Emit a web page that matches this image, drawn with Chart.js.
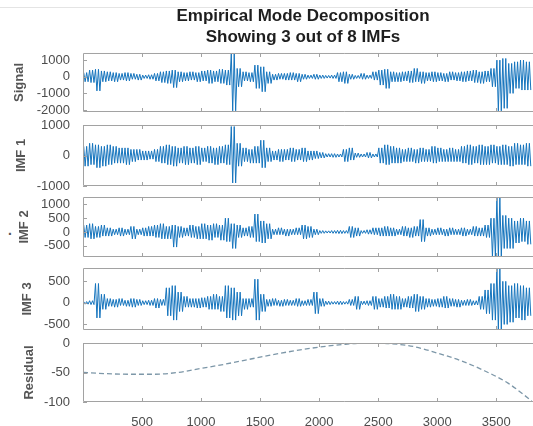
<!DOCTYPE html>
<html>
<head>
<meta charset="utf-8">
<script src="https://cdn.jsdelivr.net/npm/chart.js@4.4.1/dist/chart.umd.min.js"></script>
<style>
  html, body { margin: 0; padding: 0; background: #fff; }
  body { width: 533px; height: 426px; overflow: hidden; position: relative; }
  canvas { position: absolute; left: 0; }
  #cutLine { position: absolute; left: 0; top: 7px; width: 533px; height: 1px; background: #e4e4e4; }
  #dot { position: absolute; left: 8px; top: 222px; font: bold 14px "Liberation Sans", Arial, sans-serif; color: #555; }
</style>
</head>
<body>
<div id="cutLine"></div>
<div id="dot">.</div>
<canvas id="cSignal" width="606" height="120" style="top:0px"></canvas>
<canvas id="cImf1" width="606" height="77" style="top:117px"></canvas>
<canvas id="cImf2" width="606" height="76" style="top:189px"></canvas>
<canvas id="cImf3" width="606" height="78" style="top:260px"></canvas>
<canvas id="cResidual" width="606" height="91" style="top:335px"></canvas>

<script>
// --- DATA ---
// oscillating components: per 50-sample bin, upper and lower swing
const binWidth = 50;

const signalHi = [250,400,450,350,300,250,200,250,200,150, 100,120,200,300,350,400,300,250,300,250,
                  350,400,350,450,400,1400,500,300,250,700, 600,300,150,200,200,250,200,150,100,150,
                  100,80,100,250,300,150,80,200,100,300, 400,450,300,250,300,350,500,300,250,300,
                  250,200,300,250,300,350,400,300,350,500, 1000,1100,800,900,1000,900];
const signalLo = [-300,-350,-850,-300,-250,-300,-200,-250,-150,-200, -100,-150,-250,-350,-400,-650,-300,-250,-200,-300,
                  -250,-400,-300,-400,-500,-2050,-600,-250,-300,-700, -900,-400,-200,-150,-200,-200,-300,-150,-100,-150,
                  -100,-80,-100,-300,-400,-150,-100,-150,-100,-200, -500,-700,-300,-300,-250,-350,-300,-400,-250,-300,
                  -250,-300,-200,-250,-300,-250,-350,-400,-300,-600, -2050,-1900,-1000,-700,-800,-800];

const imf1Hi = [300,400,350,300,350,300,250,250,200,200, 150,150,200,300,350,300,250,300,250,300,
                250,300,250,300,350,950,400,250,200,300, 500,250,150,200,200,250,200,250,150,150,
                100,60,60,50,200,250,80,50,100,50, 250,350,300,250,200,250,200,250,200,300,
                250,200,250,200,300,350,300,350,300,350, 300,350,300,400,350,400];
const imf1Lo = [-350,-300,-400,-350,-300,-250,-250,-300,-200,-150, -150,-120,-200,-250,-300,-350,-250,-300,-250,-300,
                -200,-250,-300,-250,-300,-900,-350,-200,-250,-250, -400,-200,-150,-200,-150,-200,-150,-200,-150,-100,
                -80,-50,-60,-50,-200,-150,-60,-50,-80,-50, -250,-300,-250,-250,-200,-200,-250,-200,-200,-250,
                -200,-200,-200,-200,-250,-300,-250,-300,-300,-250, -300,-300,-350,-300,-300,-350];

const imf2Hi = [250,300,200,250,150,100,150,100,200,100, 150,200,250,300,200,250,200,150,250,200,
                300,250,300,250,500,300,250,150,200,650, 400,300,100,150,100,100,150,250,200,100,
                50,40,50,60,50,200,150,50,80,150, 150,200,150,100,200,150,200,450,150,100,
                150,100,150,100,150,100,200,150,250,500, 1250,600,500,400,500,400];
const imf2Lo = [-200,-250,-200,-150,-150,-100,-150,-100,-250,-100, -150,-150,-200,-250,-250,-550,-200,-150,-200,-250,
                -250,-300,-200,-300,-350,-600,-200,-150,-200,-350, -400,-250,-100,-100,-150,-100,-100,-250,-200,-100,
                -50,-40,-50,-60,-50,-200,-150,-50,-80,-100, -150,-150,-150,-100,-150,-200,-150,-350,-150,-100,
                -100,-150,-100,-100,-150,-100,-150,-150,-200,-900, -900,-600,-600,-400,-350,-450];

const imf3Hi = [30,50,450,200,100,80,100,60,100,80, 50,60,100,80,350,400,250,150,100,100,
                120,150,200,150,400,350,250,100,100,550, 200,80,100,60,80,60,100,50,80,250,
                100,40,30,40,30,80,150,40,50,150, 100,150,200,150,100,150,200,150,100,80,
                100,150,100,80,60,80,50,150,300,450, 800,500,400,450,400,350];
const imf3Lo = [-30,-40,-350,-150,-80,-100,-60,-80,-100,-60, -40,-60,-120,-60,-300,-400,-200,-100,-100,-120,
                -100,-150,-150,-200,-350,-400,-300,-150,-100,-400, -200,-80,-60,-80,-60,-60,-80,-60,-60,-250,
                -80,-40,-30,-40,-30,-60,-150,-40,-60,-150, -100,-120,-150,-150,-100,-120,-200,-150,-100,-80,
                -100,-120,-80,-100,-60,-60,-50,-150,-250,-400, -630,-500,-450,-350,-400,-300];

// slow residual trend
const residualX = [0,200,400,600,800,1000,1200,1400,1600,1800,2000,2200,2400,2600,2800,3000,3200,3400,3600,3800];
const residualY = [-50,-52,-53,-53,-50,-43,-36,-28,-20,-13,-7,-2.5,0,-1,-6,-17,-30,-47,-68,-98];

// axis ticks
const xTicks = [500, 1000, 1500, 2000, 2500, 3000, 3500, 4000];
const signalTicks = [1000, 0, -1000, -2000];
const imf1Ticks = [1000, 0, -1000];
const imf2Ticks = [1000, 500, 0, -500];
const imf3Ticks = [500, 0, -500];
const residualTicks = [0, -50, -100];

// --- STYLE ---
const FONT = '"Liberation Sans", Arial, Helvetica, sans-serif';
const lineBlue = '#1574bd';
const boxGrey = '#a2a2a2';
const xMax = 4430;   // axes run past the cropped right edge

// each bin swings hi -> lo twice so the trace looks as dense as the original
function zigzag(hi, lo) {
    const pts = [];
    hi.forEach((h, i) => {
        const x0 = i * binWidth;
        pts.push({ x: x0 + 6, y: h });
        pts.push({ x: x0 + 18, y: lo[i] });
        pts.push({ x: x0 + 31, y: h });
        pts.push({ x: x0 + 43, y: lo[i] });
    });
    return pts;
}

// box + inward tick marks, MATLAB style
const framePlugin = {
    id: 'frame',
    afterDraw(chart) {
        const { ctx, chartArea: a, scales } = chart;
        ctx.save();
        ctx.strokeStyle = boxGrey;
        ctx.lineWidth = 1;
        ctx.beginPath();
        ctx.moveTo(a.right, a.top + 0.5);
        ctx.lineTo(a.left + 0.5, a.top + 0.5);
        ctx.lineTo(a.left + 0.5, a.bottom - 0.5);
        ctx.lineTo(a.right, a.bottom - 0.5);
        scales.x.ticks.forEach(t => {
            const px = Math.round(scales.x.getPixelForValue(t.value)) + 0.5;
            ctx.moveTo(px, a.top); ctx.lineTo(px, a.top + 4);
            ctx.moveTo(px, a.bottom); ctx.lineTo(px, a.bottom - 4);
        });
        scales.y.ticks.forEach(t => {
            const py = Math.round(scales.y.getPixelForValue(t.value)) + 0.5;
            ctx.moveTo(a.left, py); ctx.lineTo(a.left + 4, py);
        });
        ctx.stroke();
        ctx.restore();
    }
};

function makePanel(id, p) {
    const ctx = document.getElementById(id).getContext('2d');
    return new Chart(ctx, {
        type: 'line',
        data: {
            datasets: [{
                data: p.data,
                borderColor: p.color || lineBlue,
                borderWidth: p.width || 1,
                borderDash: p.dash || [],
                pointRadius: 0,
                tension: 0,
                cubicInterpolationMode: p.smooth ? 'monotone' : 'default',
                fill: false
            }]
        },
        options: {
            responsive: false,
            animation: false,
            events: [],
            layout: { padding: { top: p.padTop, bottom: p.padBottom, left: 0, right: 0 } },
            plugins: {
                legend: { display: false },
                tooltip: { enabled: false },
                title: p.title ? {
                    display: true,
                    text: p.title,
                    color: '#1e1e1e',
                    font: { family: FONT, size: 17, weight: 'bold', lineHeight: 1.235 },
                    padding: { top: 6, bottom: 5 }
                } : { display: false }
            },
            scales: {
                x: {
                    type: 'linear',
                    min: 0,
                    max: xMax,
                    afterBuildTicks: s => { s.ticks = xTicks.map(v => ({ value: v })); },
                    afterFit: s => {
                        s.height = p.xLabels ? 24 : 0;
                        s.paddingLeft = 0; s.paddingRight = 0;
                    },
                    grid: { display: false },
                    border: { display: false },
                    ticks: {
                        display: !!p.xLabels,
                        autoSkip: false,
                        maxRotation: 0,
                        padding: 5,
                        color: '#4d4d4d',
                        font: { family: FONT, size: 13 },
                        callback: v => String(v)
                    }
                },
                y: {
                    min: p.min,
                    max: p.max,
                    afterBuildTicks: s => { s.ticks = p.ticks.map(v => ({ value: v })); },
                    afterFit: s => {
                        s.width = 83;
                        s.paddingTop = 0; s.paddingBottom = 0;
                    },
                    grid: { display: false },
                    border: { display: false },
                    ticks: {
                        autoSkip: false,
                        padding: 5,
                        color: '#4d4d4d',
                        font: { family: FONT, size: 13 },
                        callback: v => String(v)
                    },
                    title: {
                        display: true,
                        text: p.label,
                        color: '#555',
                        font: { family: FONT, size: 13, weight: 'bold' },
                        padding: { top: p.labelPad, bottom: 0 }
                    }
                }
            }
        },
        plugins: [framePlugin]
    });
}

makePanel('cSignal', {
    data: zigzag(signalHi, signalLo), min: -2120, max: 1430, ticks: signalTicks,
    label: 'Signal', labelPad: 12, padTop: 0, padBottom: 8,
    title: ['Empirical Mode Decomposition', 'Showing 3 out of 8 IMFs']
});
makePanel('cImf1', {
    data: zigzag(imf1Hi, imf1Lo), min: -1000, max: 1000, ticks: imf1Ticks,
    label: 'IMF 1', labelPad: 14, padTop: 8, padBottom: 8
});
makePanel('cImf2', {
    data: zigzag(imf2Hi, imf2Lo), min: -910, max: 1270, ticks: imf2Ticks,
    label: 'IMF 2', labelPad: 17, padTop: 8, padBottom: 8
});
makePanel('cImf3', {
    data: zigzag(imf3Hi, imf3Lo), min: -630, max: 810, ticks: imf3Ticks,
    label: 'IMF 3', labelPad: 20, padTop: 8, padBottom: 8
});
makePanel('cResidual', {
    data: residualX.map((x, i) => ({ x: x, y: residualY[i] })), min: -100, max: 0, ticks: residualTicks,
    label: 'Residual', labelPad: 22, padTop: 8, padBottom: 0, xLabels: true,
    color: '#7d97a8', width: 1.3, dash: [5, 3], smooth: true
});
</script>
</body>
</html>
